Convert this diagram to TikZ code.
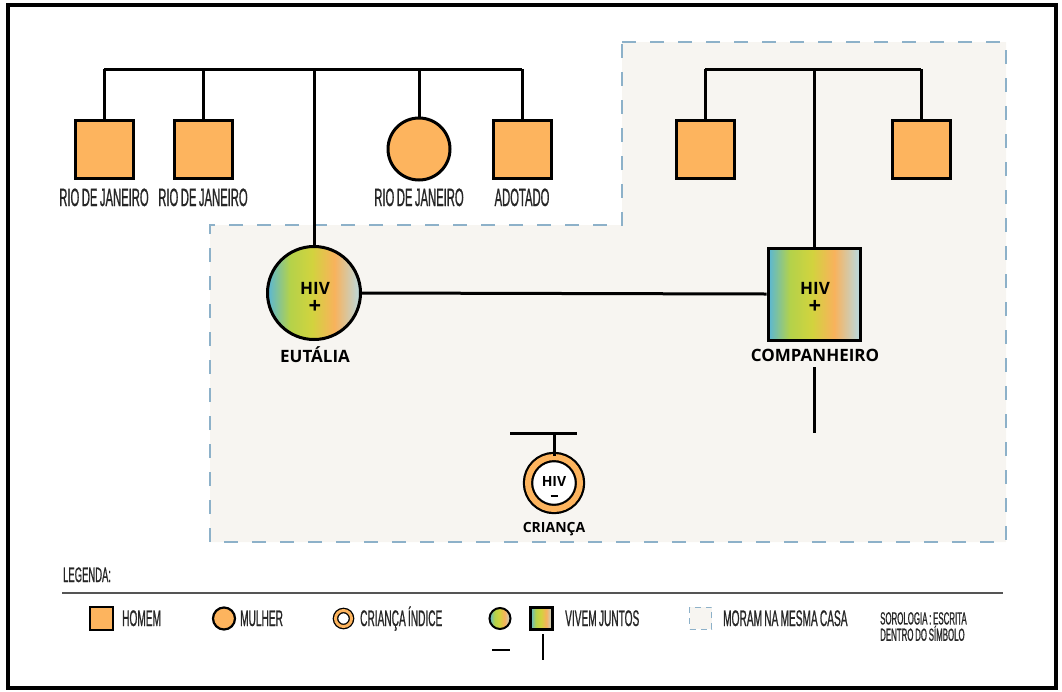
\documentclass[tikz,border=0pt]{standalone}
\usepackage{fontspec}
\setmainfont{Open Sans}
\newfontfamily\condfont[FakeStretch=0.45,FakeBold=0.8,WordSpace=0.8]{Liberation Sans}
\usetikzlibrary{positioning}
\definecolor{orangefill}{HTML}{FDB45E}
\definecolor{housefill}{HTML}{F7F5F1}
\definecolor{housedash}{HTML}{8DB1C9}
\definecolor{legendline}{HTML}{555555}
\definecolor{gblue}{HTML}{58B6D8}
\definecolor{ggreen}{HTML}{B4D24A}
\definecolor{gyellow}{HTML}{D2D33E}
\definecolor{gorange}{HTML}{F8B25C}
\definecolor{gpale}{HTML}{B9DAE2}
\pgfdeclarehorizontalshading{hivshade}{100bp}{color(0bp)=(gblue); color(25bp)=(gblue);
  color(37bp)=(ggreen); color(49bp)=(gyellow); color(61bp)=(gorange);
  color(75bp)=(gpale); color(100bp)=(gpale)}
\tikzset{
  man/.style={draw, line width=3pt, fill=orangefill, minimum size=58pt, inner sep=0pt},
  woman/.style={circle, draw, line width=3pt, fill=orangefill, minimum size=62pt, inner sep=0pt},
  manhiv/.style={draw, line width=3pt, shading=hivshade, minimum size=92pt, inner sep=0pt},
  womanhiv/.style={circle, draw, line width=3pt, shading=hivshade, minimum size=93pt, inner sep=0pt},
  index/.style={circle, draw, fill=white, line width=2.2pt, double=orangefill, double distance=6pt,
    minimum size=52pt, inner sep=0pt},
  hivtext/.style={inner sep=0pt, font=\bfseries\fontsize{17}{17}\selectfont},
  signtext/.style={inner sep=0pt, font=\bfseries\fontsize{22}{22}\selectfont},
  place/.style={anchor=base, text=black!85, font=\condfont\fontsize{25}{25}\selectfont},
  who/.style={anchor=base, font=\bfseries\fontsize{17}{17}\selectfont},
  legendtext/.style={anchor=base west, inner sep=0pt, text=black!85, font=\condfont\fontsize{22.5}{22}\selectfont},
  link/.style={line width=3pt},
  house/.style={fill=housefill, draw=housedash, line width=1.2pt, dash pattern=on 14pt off 14pt}
}
\begin{document}
\begin{tikzpicture}[x=1pt, y=-1pt]
  \useasboundingbox (0,0) rectangle (1062,691);
  % frame
  \draw[line width=3.5pt] (8,5) rectangle (1056,688);
  % same house
  \draw[house] (622,42) -- (1006,42) -- (1006,542) -- (210,542) -- (210,225) -- (622,225) -- cycle;
  % people
  \draw
    (104,149) node[man] (rio1){}
    (203,149) node[man] (rio2){}
    (419,149) node[woman] (rio3){}
    (522,149) node[man] (adot){}
    (705,149) node[man] (irmao1){}
    (921,149) node[man] (irmao2){}
    (314,293) node[womanhiv] (eut){}
    (814,294) node[manhiv] (comp){}
    (554,483) node[index] (crianca){};
  % serology
  \node[hivtext] (euthiv) at (315,288) {HIV};
  \node[signtext] (eutsign) at (315,307) {+};
  \node[hivtext] (comphiv) at (815,288) {HIV};
  \node[signtext] (compsign) at (815,307) {+};
  \node[hivtext, font=\bfseries\fontsize{14}{14}\selectfont] (kidhiv) at (554,481) {HIV};
  \node[inner sep=0pt] (kidsign) at (554,496) {\rule{7pt}{2.6pt}};
  % labels
  \draw
    (104,206) node[place] (lrio1){RIO DE JANEIRO}
    (203,206) node[place] (lrio2){RIO DE JANEIRO}
    (419,206) node[place] (lrio3){RIO DE JANEIRO}
    (522,206) node[place] (ladot){ADOTADO}
    (315,362) node[who] (leut){EUTÁLIA}
    (815,361) node[who] (lcomp){COMPANHEIRO}
    (554,532) node[who, font=\bfseries\fontsize{14}{14}\selectfont] (lcrianca){CRIANÇA};
  % lines
  \coordinate (famL) at (104,69);
  \coordinate (famR) at (522,69);
  \coordinate (compfamL) at (705,69);
  \coordinate (compfamR) at (921,69);
  \coordinate (tailTop) at (814,367);
  \coordinate (tailBot) at (814,433);
  \coordinate (kidL) at (510,433);
  \coordinate (kidR) at (577,433);
  \begin{scope}[link]
    \draw (famL) -- (famR);
    \draw (rio1.north) -- (rio1.north |- famL);
    \draw (rio2.north) -- (rio2.north |- famL);
    \draw (rio3.north) -- (rio3.north |- famL);
    \draw (adot.north) -- (adot.north |- famL);
    \draw (eut.north) -- (eut.north |- famL);
    \draw (compfamL) -- (compfamR);
    \draw (irmao1.north) -- (irmao1.north |- compfamL);
    \draw (irmao2.north) -- (irmao2.north |- compfamL);
    \draw (comp.north) -- (comp.north |- compfamL);
    \draw (eut.east) -- (comp.west);
    \draw (tailTop) -- (tailBot);
    \draw (kidL) -- (kidR);
    \draw (crianca.north) -- (crianca.north |- kidL);
  \end{scope}
  % legend
  \node[legendtext, font=\condfont\fontsize{21}{21}\selectfont] (legenda) at (63,582) {LEGENDA:};
  \coordinate (rulerL) at (62,593);
  \coordinate (rulerR) at (1003,593);
  \draw[legendline, line width=1.6pt] (rulerL) -- (rulerR);
  \draw
    (101.5,618.5) node[man, minimum size=23pt, line width=2.2pt] (kman){}
    (224,618.5) node[woman, minimum size=22pt, line width=2.2pt] (kwoman){}
    (343.5,618.5) node[index, minimum size=16pt, line width=1.3pt, double distance=3pt] (kindex){}
    (500,618.5) node[womanhiv, minimum size=21pt, line width=2pt] (kcircle){}
    (541.5,618.5) node[manhiv, minimum size=22pt, line width=2.2pt] (ksquare){}
    (700.5,618) node[house, minimum size=22pt, line width=1pt, dash pattern=on 6pt off 5pt] (khouse){};
  \coordinate (kbarL) at (492,650);
  \coordinate (kbarR) at (510,650);
  \coordinate (kstemT) at (543,634);
  \coordinate (kstemB) at (543,660);
  \draw[link, line width=2.2pt] (kbarL) -- (kbarR);
  \draw[link, line width=2.2pt] (kstemT) -- (kstemB);
  \node[legendtext] (thomem) at (122,626) {HOMEM};
  \node[legendtext] (tmulher) at (240,626) {MULHER};
  \node[legendtext] (tindex) at (360,626) {CRIANÇA ÍNDICE};
  \node[legendtext] (tjuntos) at (565,626) {VIVEM JUNTOS};
  \node[legendtext] (tcasa) at (723,626) {MORAM NA MESMA CASA};
  \node[legendtext, align=left, anchor=north west, font=\condfont\fontsize{17.5}{13}\selectfont] (tsoro) at (880,612) {SOROLOGIA : ESCRITA\\DENTRO DO SÍMBOLO};
\end{tikzpicture}
\end{document}
